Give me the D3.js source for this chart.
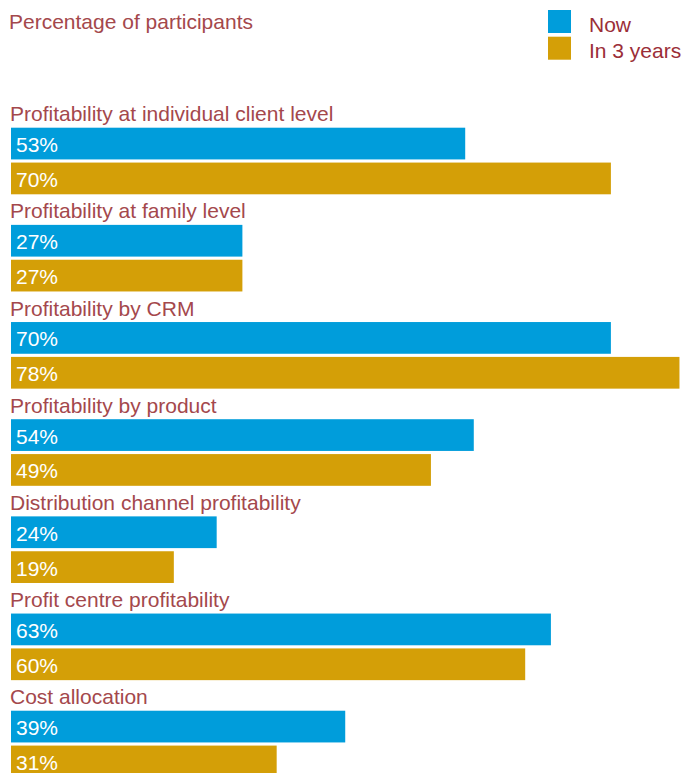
<!DOCTYPE html>
<html>
<head>
<meta charset="utf-8">
<script src="https://cdn.jsdelivr.net/npm/d3@7"></script>
<style>
  html, body { margin: 0; padding: 0; background: #fff; }
  svg { display: block; font-family: "Liberation Sans", Arial, sans-serif; }
</style>
</head>
<body>
<svg id="chart" width="698" height="773"></svg>
<script>
// Categories and values (percentage of participants)
const categories = [
  "Profitability at individual client level",
  "Profitability at family level",
  "Profitability by CRM",
  "Profitability by product",
  "Distribution channel profitability",
  "Profit centre profitability",
  "Cost allocation"
];
const seriesNames = ["Now", "In 3 years"];
const nowValues = [53, 27, 70, 54, 24, 63, 39];
const in3YearsValues = [70, 27, 78, 49, 19, 60, 31];
const seriesColors = ["#009ddb", "#d49f07"];

const labelColor = "#a4484c";
const legendTextColor = "#9b2e38";
const fontSize = 21;

const svg = d3.select("#chart");

const x = d3.scaleLinear().domain([0, 100]).range([11, 868]);

const groupTop = 103.7, groupStep = 97.17;
const yGroup = d3.scaleBand()
  .domain(categories)
  .range([groupTop, groupTop + groupStep * categories.length])
  .padding(0);

const ySeries = d3.scaleBand()
  .domain(seriesNames)
  .range([24, 90.6])
  .paddingInner(0.09)
  .paddingOuter(0);

const rows = categories.map((c, i) => ({
  category: c,
  values: [nowValues[i], in3YearsValues[i]]
}));

// Title
svg.append("text")
  .attr("x", 9)
  .attr("y", 29)
  .attr("fill", labelColor)
  .attr("font-size", fontSize)
  .text("Percentage of participants");

// Legend
const legend = svg.append("g");
seriesNames.forEach((name, i) => {
  const ly = 10 + i * 26.7;
  legend.append("rect")
    .attr("x", 548).attr("y", ly)
    .attr("width", 23).attr("height", 23)
    .attr("fill", seriesColors[i]);
  legend.append("text")
    .attr("x", 589).attr("y", ly + 21.5)
    .attr("fill", legendTextColor)
    .attr("font-size", fontSize)
    .text(name);
});

// Groups
const groups = svg.selectAll("g.group")
  .data(rows)
  .join("g")
  .attr("class", "group")
  .attr("transform", d => `translate(0,${yGroup(d.category)})`);

groups.append("text")
  .attr("x", 10)
  .attr("y", 17.5)
  .attr("fill", labelColor)
  .attr("font-size", fontSize)
  .text(d => d.category);

const bars = groups.selectAll("g.bar")
  .data(d => d.values.map((v, j) => ({ series: seriesNames[j], value: v, j })))
  .join("g")
  .attr("class", "bar");

bars.append("rect")
  .attr("x", x(0))
  .attr("y", d => ySeries(d.series))
  .attr("width", d => x(d.value) - x(0))
  .attr("height", ySeries.bandwidth())
  .attr("fill", d => seriesColors[d.j]);

bars.append("text")
  .attr("x", 16)
  .attr("y", d => ySeries(d.series) + ySeries.bandwidth() / 2 + 8.5)
  .attr("fill", "#fff")
  .attr("font-size", fontSize)
  .text(d => d.value + "%");
</script>
</body>
</html>
